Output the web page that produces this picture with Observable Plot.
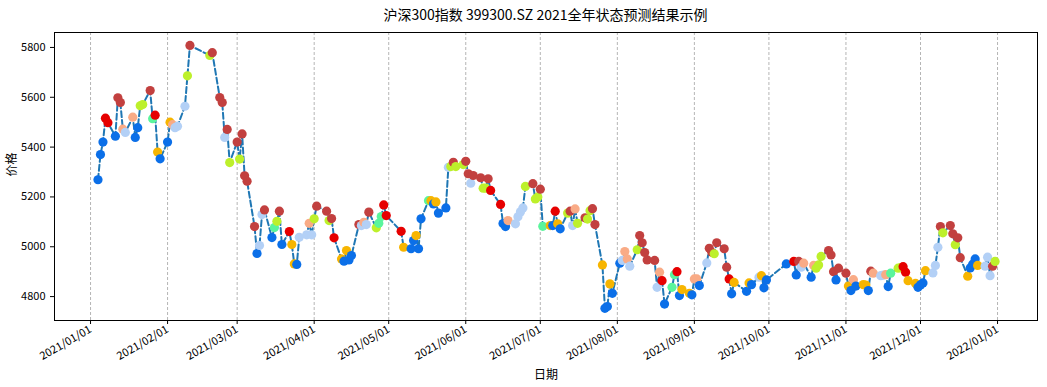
<!DOCTYPE html>
<html><head><meta charset="utf-8">
<script src="https://cdn.jsdelivr.net/npm/d3@7"></script>
<script src="https://cdn.jsdelivr.net/npm/@observablehq/plot@0.6"></script>
<style>
body{margin:0;background:#fff;font-family:"Noto Sans CJK SC","DejaVu Sans",sans-serif;}
#title{height:26px;line-height:28px;text-align:center;font-size:14px;color:#000;padding-left:44px;box-sizing:border-box;width:1047px;}
#chart svg{display:block;}
</style></head><body>
<div id="title">沪深300指数 399300.SZ 2021全年状态预测结果示例</div>
<div id="chart"></div>
<script>
const tradeDates = [
"01-04","01-05","01-06","01-07","01-08","01-11","01-12","01-13","01-14","01-15","01-18","01-19","01-20","01-21","01-22","01-25","01-26","01-27","01-28","01-29",
"02-01","02-02","02-03","02-04","02-05","02-08","02-09","02-10","02-18","02-19","02-22","02-23","02-24","02-25","02-26",
"03-01","03-02","03-03","03-04","03-05","03-08","03-09","03-10","03-11","03-12","03-15","03-16","03-17","03-18","03-19","03-22","03-23","03-24","03-25","03-26","03-29","03-30","03-31",
"04-01","04-02","04-06","04-07","04-08","04-09","04-12","04-13","04-14","04-15","04-16","04-19","04-20","04-21","04-22","04-23","04-26","04-27","04-28","04-29","04-30",
"05-06","05-07","05-10","05-11","05-12","05-13","05-14","05-17","05-18","05-19","05-20","05-21","05-24","05-25","05-26","05-27","05-28","05-31",
"06-01","06-02","06-03","06-04","06-07","06-08","06-09","06-10","06-11","06-15","06-16","06-17","06-18","06-21","06-22","06-23","06-24","06-25","06-28","06-29","06-30",
"07-01","07-02","07-05","07-06","07-07","07-08","07-09","07-12","07-13","07-14","07-15","07-16","07-19","07-20","07-21","07-22","07-23","07-26","07-27","07-28","07-29","07-30",
"08-02","08-03","08-04","08-05","08-06","08-09","08-10","08-11","08-12","08-13","08-16","08-17","08-18","08-19","08-20","08-23","08-24","08-25","08-26","08-27","08-30","08-31",
"09-01","09-02","09-03","09-06","09-07","09-08","09-09","09-10","09-13","09-14","09-15","09-16","09-17","09-22","09-23","09-24","09-27","09-28","09-29","09-30",
"10-08","10-11","10-12","10-13","10-14","10-15","10-18","10-19","10-20","10-21","10-22","10-25","10-26","10-27","10-28","10-29",
"11-01","11-02","11-03","11-04","11-05","11-08","11-09","11-10","11-11","11-12","11-15","11-16","11-17","11-18","11-19","11-22","11-23","11-24","11-25","11-26","11-29","11-30",
"12-01","12-02","12-03","12-06","12-07","12-08","12-09","12-10","12-13","12-14","12-15","12-16","12-17","12-20","12-21","12-22","12-23","12-24","12-27","12-28","12-29","12-30","12-31"
];
const closes = [
5269,5370,5420,5516,5498,5444,5598,5579,5472,5459,5520,5439,5478,5566,5571,5627,5514,5528,5380,5353,
5420,5500,5490,5478,5484,5564,5686,5808,5768,5779,5599,5579,5439,5471,5338,
5420,5352,5453,5285,5263,5081,4973,5005,5129,5148,5037,5077,5102,5143,5009,5061,5009,4931,4929,5038,5048,5094,5048,
5112,5163,5143,5105,5113,5036,4951,4942,4985,4947,4965,5089,5085,5098,5089,5139,5076,5094,5121,5168,5125,
5062,4998,4992,5025,5045,4992,5112,5185,5185,5172,5180,5135,5156,5319,5322,5339,5322,5330,
5343,5293,5255,5286,5277,5235,5235,5273,5226,5170,5093,5081,5105,5092,5120,5140,5156,5242,5253,5192,5200,
5231,5082,5085,5085,5143,5092,5072,5135,5143,5085,5152,5094,5116,5111,5145,5153,5089,4927,4753,4760,4851,4813,
4934,4945,4981,4951,4922,4988,5045,5016,4977,4947,4945,4837,4898,4864,4770,4837,4888,4900,4804,4828,4813,4807,
4871,4871,4844,4935,4994,4978,4972,5016,4992,4918,4871,4811,4857,4821,4855,4848,4878,4884,4835,4867,
4931,4941,4887,4941,4918,4934,4878,4925,4914,4927,4961,4985,4967,4900,4867,4914,
4894,4842,4824,4868,4842,4848,4846,4824,4902,4894,4884,4886,4888,4840,4894,4914,4916,4920,4898,4864,4853,4837,
4847,4855,4904,4895,4925,4998,5081,5056,5085,5052,5008,5036,4956,4882,4915,4930,4951,4925,4922,4958,4884,4922,4941
];
const states = [
"B","B","B","R","R","B","D","D","P","L","P","B","B","Y","Y","D","M","R","O","B",
"B","O","P","L","L","L","Y","D","Y","D","D","D","L","D","Y",
"D","Y","D","D","D","D","B","L","L","D","B","M","Y","D","B","R","O","O","B","L","L","P","L",
"Y","D","D","Y","D","R","O","B","O","B","B","D","L","P","L","D","Y","M","M","R","R",
"R","O","B","B","O","B","B","M","O","B","O","B","B","L","Y","D","Y","Y",
"D","D","L","D","D","Y","Y","D","R","R","B","B","P","L","L","L","L","Y","D","Y","Y",
"D","M","O","B","R","O","B","Y","D","L","P","Y","D","Y","Y","D","D","O","B","B","O","B",
"B","L","P","P","L","Y","D","D","D","D","D","L","P","R","B","M","M","R","B","O","O","B",
"P","P","B","L","D","D","Y","D","D","D","R","B","O","B","O","B","L","O","B","B",
"B","R","B","D","L","P","B","P","Y","Y","Y","D","D","D","B","D",
"D","O","B","P","B","O","O","B","D","P","L","L","P","B","M","Y","Y","R","R","O","O","B",
"B","B","O","L","L","L","D","Y","D","D","Y","D","D","O","B","B","B","O","L","L","L","D","Y"
];
const stateKeys = ["B","L","P","O","Y","M","R","D"];
const stateColors = ["#0b6fe8","#b3d0f6","#f9ab86","#f7b500","#bdf02b","#5af59c","#e60000","#c2403f"];
const monthTicks = ["2021-01-01","2021-02-01","2021-03-01","2021-04-01","2021-05-01","2021-06-01","2021-07-01","2021-08-01","2021-09-01","2021-10-01","2021-11-01","2021-12-01","2022-01-01"];
const yTicks = [4800,5000,5200,5400,5600,5800];

const data = tradeDates.map((d,i)=>({date:new Date("2021-"+d+"T00:00:00Z"), close:closes[i], state:states[i]}));
const ticks = monthTicks.map(s=>new Date(s+"T00:00:00Z"));
const fmt = d3.utcFormat("%Y/%m/%d");
const font = '"Noto Sans CJK SC","DejaVu Sans",sans-serif';

const chart = Plot.plot({
  width:1047, height:361,
  marginLeft:54, marginRight:10, marginTop:6, marginBottom:67,
  style:{fontFamily:font, fontSize:"11px", color:"#000", background:"#fff", overflow:"visible"},
  x:{type:"utc", domain:[new Date("2020-12-17T12:00:00Z"), new Date("2022-01-17T02:00:00Z")]},
  y:{domain:[4704,5860]},
  color:{domain:stateKeys, range:stateColors},
  marks:[
    Plot.ruleX(ticks,{stroke:"#b5b5b5", strokeWidth:1, strokeDasharray:"3,2"}),
    Plot.lineY(data,{x:"date", y:"close", stroke:"#1f77b4", strokeWidth:2, strokeDasharray:"6,3"}),
    Plot.dot(data,{x:"date", y:"close", fill:"state", r:4.6}),
    Plot.frame({stroke:"#000", strokeWidth:1}),
    Plot.axisX({ticks:ticks, tickFormat:fmt, tickSize:4, tickRotate:-30, textAnchor:"end", tickPadding:4, label:null, fontSize:11}),
    Plot.axisY({ticks:yTicks, tickFormat:d=>String(d), tickSize:4, tickPadding:5, label:null, fontSize:11}),
    Plot.text(["日期"],{frameAnchor:"bottom", dy:58, fontSize:12, fill:"#000"}),
    Plot.text(["价格"],{frameAnchor:"left", dx:-42, rotate:-90, fontSize:12, fill:"#000"})
  ]
});
document.getElementById("chart").appendChild(chart);
</script>
</body></html>
